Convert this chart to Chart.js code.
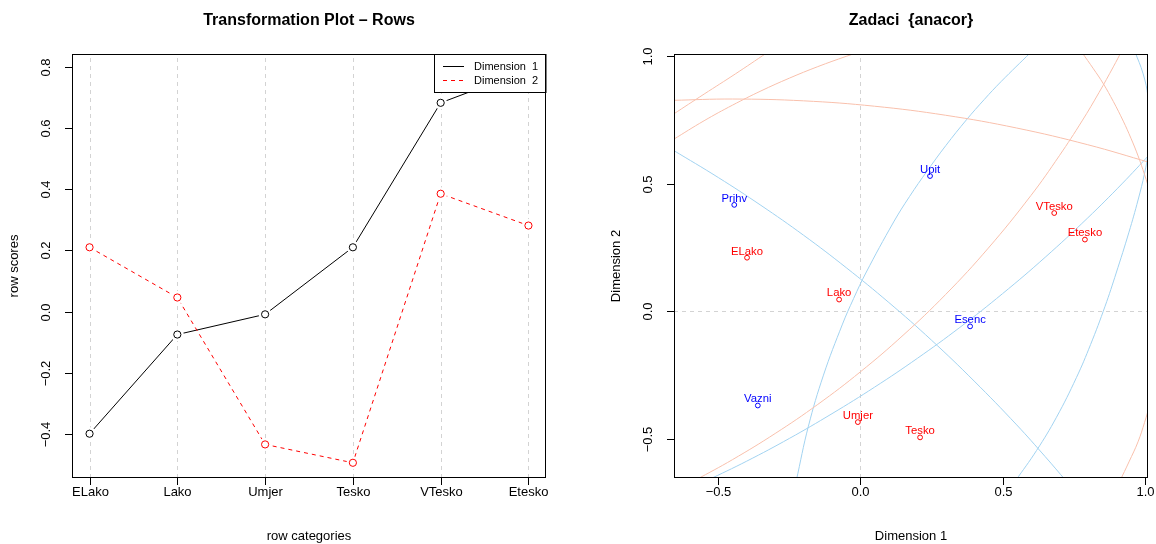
<!DOCTYPE html>
<html><head><meta charset="utf-8">
<script src="https://cdn.jsdelivr.net/npm/chart.js@4/dist/chart.umd.min.js"></script>
<style>
html,body{margin:0;padding:0;background:#fff;}
#wrap{position:relative;width:1156px;height:544px;overflow:hidden;}
canvas{position:absolute;top:0;}
</style></head><body>
<div id="wrap">
<canvas id="leftChart" width="578" height="544" style="left:0"></canvas>
<canvas id="rightChart" width="578" height="544" style="left:578px"></canvas>
</div>
<script>
// ---------- data ----------
const rowCategories = ['ELako','Lako','Umjer','Tesko','VTesko','Etesko'];
const rowDim1 = [-0.399,-0.075,-0.009,0.210,0.682,0.790];
const rowDim2 = [0.210,0.046,-0.434,-0.494,0.385,0.281];
const colCategories = ['Prihv','Upit','Esenc','Vazni'];
const colDim1 = [-0.444,0.245,0.386,-0.361];
const colDim2 = [0.417,0.530,-0.059,-0.369];
const leftYTicks = [-0.4,-0.2,0,0.2,0.4,0.6,0.8];
const rightXTicks = [-0.5,0,0.5,1];
const rightYTicks = [-0.5,0,0.5,1];
const seriesNames = ['Dimension  1','Dimension  2'];

// curves (x, y in dimension units)
const salmonArc1 = [[-0.66,0.8265],[-0.45,0.8316],[-0.2,0.8245],[0.05,0.8034],[0.3,0.768],[0.55,0.718],[0.8,0.6526],[1.02,0.5824]];
const salmonArc2 = [[-0.66,0.771],[-0.55,0.851],[-0.44,0.93],[-0.33,1.012]];
const salmonArc3 = [[-0.66,0.672],[-0.55,0.7466],[-0.45,0.8077],[-0.35,0.8633],[-0.25,0.9134],[-0.15,0.9585],[-0.05,0.9988],[0.0,1.017]];
const salmonArc4 = [[-0.58,-0.661],[-0.45,-0.581],[-0.3,-0.4787],[-0.15,-0.3647],[0,-0.237],[0.15,-0.094],[0.3,0.066],[0.45,0.2475],[0.6,0.4536],[0.7,0.6095],[0.78,0.7458],[0.84,0.8578],[0.89,0.9577],[0.92,1.0208]];
const salmonArc5 = [[0.779,1.015],[0.82,0.95],[0.854,0.893],[0.89,0.822],[0.925,0.745],[0.952,0.678],[0.977,0.609],[1.0,0.535],[1.02,0.465]];
const salmonArc6 = [[0.913,-0.665],[0.945,-0.59],[0.977,-0.511],[1.0,-0.435],[1.02,-0.36]];
const blueArc1 = [[-0.66,0.632],[-0.5,0.524],[-0.35,0.415],[-0.2,0.298],[-0.05,0.171],[0.1,0.0345],[0.25,-0.113],[0.4,-0.273],[0.55,-0.445],[0.65,-0.569],[0.725,-0.666]];
const blueArc2 = [[-0.226,-0.665],[-0.183,-0.45],[-0.130,-0.25],[-0.063,-0.05],[-0.024,0.05],[0.019,0.15],[0.117,0.35],[0.173,0.45],[0.235,0.55],[0.301,0.65],[0.373,0.75],[0.436,0.83],[0.495,0.9],[0.600,1.015]];
const blueArc3 = [[-0.54,-0.663],[-0.4,-0.587],[-0.25,-0.498],[-0.1,-0.401],[0.05,-0.297],[0.2,-0.1845],[0.35,-0.063],[0.5,0.069],[0.65,0.2115],[0.8,0.366],[0.92,0.499],[1.02,0.617]];
const blueArc4 = [[0.545,-0.665],[0.62,-0.545],[0.69,-0.415],[0.76,-0.26],[0.81,-0.13],[0.861,0.02],[0.9,0.15],[0.945,0.31],[0.977,0.436],[1.0,0.541],[1.012,0.62],[1.018,0.72],[1.012,0.84],[0.995,0.93],[0.965,1.02]];

// ---------- helpers ----------
const FAM = '"Liberation Sans", Arial, Helvetica, sans-serif';
const RED = '#ff0000', BLUE = '#0000ff';
const SALMON = 'rgb(249,192,172)', SKY = 'rgb(162,211,241)';
const GRID = '#d3d3d3';
function fmt(v, d){ const s = Math.abs(v).toFixed(d); return v < -1e-9 ? '\u2212' + s : s; }

function decor(spec){
  return {
    id:'decor',
    beforeDatasetsDraw(chart){
      const {ctx, chartArea:a, scales:{x,y}} = chart;
      ctx.save();
      ctx.beginPath(); ctx.rect(a.left,a.top,a.right-a.left,a.bottom-a.top); ctx.clip();
      ctx.strokeStyle = GRID; ctx.lineWidth = 1; ctx.setLineDash([4,4]);
      (spec.gridX||[]).forEach(v=>{ const p = Math.round(x.getPixelForValue(v))+0.5;
        ctx.beginPath(); ctx.moveTo(p,a.bottom); ctx.lineTo(p,a.top); ctx.stroke(); });
      (spec.gridY||[]).forEach(v=>{ const p = Math.round(y.getPixelForValue(v))+0.5;
        ctx.beginPath(); ctx.moveTo(a.left,p); ctx.lineTo(a.right,p); ctx.stroke(); });
      ctx.restore();
    },
    afterDatasetsDraw(chart){
      const {ctx, chartArea:a, scales:{x,y}} = chart;
      ctx.save();
      // point labels
      chart.data.datasets.forEach((ds,i)=>{
        if(!ds.pointLabels) return;
        const meta = chart.getDatasetMeta(i);
        ctx.font = '11.3px ' + FAM; ctx.fillStyle = ds.labelColor;
        ctx.textAlign = 'center'; ctx.textBaseline = 'alphabetic';
        meta.data.forEach((pt,j)=>{ ctx.fillText(ds.pointLabels[j], pt.x, pt.y - 3.2); });
      });
      // legend
      if(spec.legend){
        const L = spec.legend;
        const lx = 434.5, ly = 54.5, lw = a.right - 434.5, lh = 38;
        ctx.fillStyle = '#fff'; ctx.fillRect(lx,ly,lw,lh);
        ctx.strokeStyle = '#000'; ctx.lineWidth = 1; ctx.setLineDash([]); ctx.strokeRect(lx,ly,lw,lh);
        ctx.font = '11px ' + FAM; ctx.textAlign = 'left'; ctx.textBaseline = 'middle';
        L.forEach((it,k)=>{
          const yy = 66.5 + k*14;
          ctx.strokeStyle = it.color; ctx.setLineDash(it.dash||[]);
          ctx.beginPath(); ctx.moveTo(443,yy); ctx.lineTo(464,yy); ctx.stroke();
          ctx.setLineDash([]); ctx.fillStyle = '#000';
          ctx.fillText(it.text, 474, yy);
        });
      }
      // box
      ctx.setLineDash([]); ctx.strokeStyle = '#000'; ctx.lineWidth = 1;
      ctx.strokeRect(a.left+0.5, a.top+0.5, a.right-a.left-1, a.bottom-a.top-1);
      // x ticks
      ctx.font = '13px ' + FAM; ctx.fillStyle = '#000';
      ctx.textAlign = 'center'; ctx.textBaseline = 'middle';
      spec.xTicks.forEach((v,k)=>{
        const p = Math.round(x.getPixelForValue(v))+0.5;
        ctx.beginPath(); ctx.moveTo(p,a.bottom); ctx.lineTo(p,a.bottom+7); ctx.stroke();
        ctx.fillText(spec.xLabels[k], p, a.bottom+14);
      });
      // y ticks (rotated labels)
      spec.yTicks.forEach((v,k)=>{
        const p = Math.round(y.getPixelForValue(v))+0.5;
        ctx.beginPath(); ctx.moveTo(a.left-7,p); ctx.lineTo(a.left,p); ctx.stroke();
        ctx.save(); ctx.translate(a.left-26, p); ctx.rotate(-Math.PI/2);
        ctx.fillText(spec.yLabels[k], 0, 0); ctx.restore();
      });
      // axis titles
      const cx = (a.left + a.right)/2, cy = (a.top + a.bottom)/2;
      ctx.fillText(spec.xTitle, cx, 536);
      ctx.save(); ctx.translate(a.left-58, cy); ctx.rotate(-Math.PI/2);
      ctx.fillText(spec.yTitle, 0, 0); ctx.restore();
      // main title
      ctx.font = 'bold 16px ' + FAM;
      ctx.fillText(spec.title, cx, 21);
      ctx.restore();
    }
  };
}

const common = {
  responsive:false, animation:false, events:[],
  plugins:{legend:{display:false}, tooltip:{enabled:false}, title:{display:false}},
};

// ---------- left chart ----------
const pts = vals => rowCategories.map((c,i)=>({x:i+1, y:vals[i]}));
const lineDs = (vals,color,dash,order)=>({ data:pts(vals), showLine:true, borderColor:color, borderWidth:1,
  borderDash:dash, tension:0, pointRadius:0, order });
const haloDs = (vals,order)=>({ data:pts(vals), showLine:false, pointRadius:6.5, pointBorderWidth:0,
  pointBackgroundColor:'#fff', pointBorderColor:'#fff', order });
const ringDs = (vals,color,order)=>({ data:pts(vals), showLine:false, pointRadius:3.6, pointBorderWidth:1,
  pointBackgroundColor:'#fff', pointBorderColor:color, order });
new Chart(document.getElementById('leftChart'), {
  type:'scatter',
  data:{ datasets:[
    lineDs(rowDim1,'#000',[],6), haloDs(rowDim1,5), ringDs(rowDim1,'#000',4),
    lineDs(rowDim2,RED,[4,4],3), haloDs(rowDim2,2), ringDs(rowDim2,RED,1)
  ]},
  options:Object.assign({}, common, {
    layout:{padding:{left:72, top:54, right:32, bottom:66}},
    scales:{
      x:{type:'linear', display:false, min:0.8, max:6.2, bounds:'data'},
      y:{type:'linear', display:false, min:-0.5437, max:0.8415, bounds:'data'}
    }
  }),
  plugins:[decor({
    title:'Transformation Plot \u2013 Rows', xTitle:'row categories', yTitle:'row scores',
    xTicks: rowCategories.map((c,i)=>i+1), xLabels: rowCategories,
    yTicks: leftYTicks, yLabels: leftYTicks.map(v=>fmt(v,1)),
    gridX: rowCategories.map((c,i)=>i+1),
    legend:[{text:seriesNames[0], color:'#000'},{text:seriesNames[1], color:RED, dash:[4,4]}]
  })]
});

// ---------- right chart ----------
const arc = (p,color)=>({ data: p.map(q=>({x:q[0], y:q[1]})), showLine:true, borderColor:color,
  borderWidth:1, pointRadius:0, tension:0.4, order:3 });
new Chart(document.getElementById('rightChart'), {
  type:'scatter',
  data:{ datasets:[
    arc(salmonArc1,SALMON), arc(salmonArc2,SALMON), arc(salmonArc3,SALMON),
    arc(salmonArc4,SALMON), arc(salmonArc5,SALMON), arc(salmonArc6,SALMON),
    arc(blueArc1,SKY), arc(blueArc2,SKY), arc(blueArc3,SKY), arc(blueArc4,SKY),
    { data: rowDim1.map((v,i)=>({x:v, y:rowDim2[i]})), pointLabels: rowCategories, labelColor:RED,
      pointRadius:2.4, pointBorderWidth:1, pointBorderColor:RED, pointBackgroundColor:'rgba(0,0,0,0)', order:1 },
    { data: colDim1.map((v,i)=>({x:v, y:colDim2[i]})), pointLabels: colCategories, labelColor:BLUE,
      pointRadius:2.4, pointBorderWidth:1, pointBorderColor:BLUE, pointBackgroundColor:'rgba(0,0,0,0)', order:1 }
  ]},
  options:Object.assign({}, common, {
    layout:{padding:{left:96, top:54, right:8, bottom:66}},
    scales:{
      x:{type:'linear', display:false, min:-0.656, max:1.012, bounds:'data'},
      y:{type:'linear', display:false, min:-0.653, max:1.008, bounds:'data'}
    }
  }),
  plugins:[decor({
    title:'Zadaci  {anacor}', xTitle:'Dimension 1', yTitle:'Dimension 2',
    xTicks: rightXTicks, xLabels: rightXTicks.map(v=>fmt(v,1)),
    yTicks: rightYTicks, yLabels: rightYTicks.map(v=>fmt(v,1)),
    gridX:[0], gridY:[0]
  })]
});
</script>
</body></html>
